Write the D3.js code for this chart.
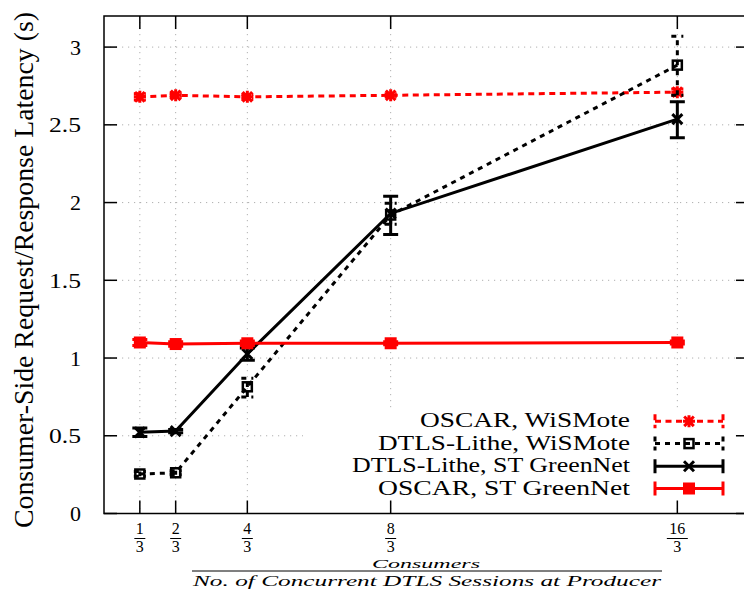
<!DOCTYPE html>
<html>
<head>
<meta charset="utf-8">
<script src="https://cdn.jsdelivr.net/npm/d3@7"></script>
<style>
  html, body { margin: 0; padding: 0; background: #fff; font-family: "Liberation Serif"; }
  svg { display: block; }
</style>
</head>
<body>
<svg id="chart" width="744" height="593" style="font-family: 'Liberation Serif'"></svg>
<script>
// ---------------- data ----------------
const xValues = [1/3, 2/3, 4/3, 8/3, 16/3];
const xTickNum = ["1", "2", "4", "8", "16"];
const xTickDen = ["3", "3", "3", "3", "3"];
const yTicks = [0, 0.5, 1, 1.5, 2, 2.5, 3];
const yTickLabels = ["0", "0.5", "1", "1.5", "2", "2.5", "3"];

const seriesNames = ["OSCAR, WiSMote", "DTLS-Lithe, WiSMote", "DTLS-Lithe, ST GreenNet", "OSCAR, ST GreenNet"];

const oscarWiSMote     = [2.68, 2.69, 2.68, 2.69, 2.71];
const oscarWiSMoteLo   = [2.66, 2.675, 2.665, 2.68, 2.69];
const oscarWiSMoteHi   = [2.70, 2.705, 2.695, 2.70, 2.73];

const litheWiSMote     = [0.254, 0.262, 0.815, 1.92, 2.884];
const litheWiSMoteLo   = [0.24, 0.25, 0.75, 1.86, 2.69];
const litheWiSMoteHi   = [0.27, 0.275, 0.87, 1.995, 3.07];

const litheGreenNet    = [0.522, 0.53, 1.026, 1.93, 2.537];
const litheGreenNetLo  = [0.495, 0.52, 0.985, 1.795, 2.417];
const litheGreenNetHi  = [0.55, 0.54, 1.065, 2.04, 2.648];

const oscarGreenNet    = [1.10, 1.09, 1.095, 1.095, 1.10];
const oscarGreenNetLo  = [1.08, 1.075, 1.08, 1.085, 1.09];
const oscarGreenNetHi  = [1.12, 1.105, 1.11, 1.105, 1.11];

// ---------------- layout ----------------
const svg = d3.select("#chart");
const x = d3.scaleLinear().domain([0, 6]).range([104, 749]);
const y = d3.scaleLinear().domain([0, 3.2]).range([513.5, 16]);
const X0 = x(0), X1 = x(6), Y0 = y(0), Y1 = y(3.2);

const series = [
  { name: seriesNames[0], v: oscarWiSMote, lo: oscarWiSMoteLo, hi: oscarWiSMoteHi, color: "#ff0000", dash: "6,4.5", marker: "star", cap: 6 },
  { name: seriesNames[1], v: litheWiSMote, lo: litheWiSMoteLo, hi: litheWiSMoteHi, color: "#000000", dash: "5,5", marker: "osquare", cap: 6 },
  { name: seriesNames[2], v: litheGreenNet, lo: litheGreenNetLo, hi: litheGreenNetHi, color: "#000000", dash: null, marker: "cross", cap: 7.5 },
  { name: seriesNames[3], v: oscarGreenNet, lo: oscarGreenNetLo, hi: oscarGreenNetHi, color: "#ff0000", dash: null, marker: "fsquare", cap: 7.5 }
];

function txt(g) {
  return g.append("text").attr("font-family", "Liberation Serif").style("font-family", '"Liberation Serif"').attr("fill", "#000");
}

// ---------------- grid ----------------
const grid = svg.append("g");
yTicks.forEach(t => {
  if (t === 0) return;
  grid.append("line").attr("x1", X0).attr("x2", X1).attr("y1", y(t)).attr("y2", y(t))
    .attr("stroke", "#b0b0b0").attr("stroke-width", 1).attr("stroke-dasharray", "1.2,4.8");
});
xValues.forEach(t => {
  grid.append("line").attr("x1", x(t)).attr("x2", x(t)).attr("y1", Y1).attr("y2", Y0)
    .attr("stroke", "#b0b0b0").attr("stroke-width", 1).attr("stroke-dasharray", "1.2,4.8");
});

// legend box (opaque)
svg.append("rect").attr("x", 303).attr("y", 408).attr("width", 432).attr("height", 94).attr("fill", "#fff");

// ---------------- markers ----------------
function drawMarker(g, kind, cx, cy, color) {
  if (kind === "star") {
    const r = 6;
    const p = `M${cx-r},${cy}L${cx+r},${cy}M${cx},${cy-r}L${cx},${cy+r}M${cx-r*0.8},${cy-r*0.8}L${cx+r*0.8},${cy+r*0.8}M${cx-r*0.8},${cy+r*0.8}L${cx+r*0.8},${cy-r*0.8}`;
    g.append("path").attr("d", p).attr("stroke", color).attr("stroke-width", 3).attr("fill", "none");
  } else if (kind === "osquare") {
    g.append("rect").attr("x", cx-4.5).attr("y", cy-4.5).attr("width", 9).attr("height", 9)
      .attr("fill", "none").attr("stroke", color).attr("stroke-width", 2.5);
  } else if (kind === "cross") {
    const r = 5;
    g.append("path").attr("d", `M${cx-r},${cy-r}L${cx+r},${cy+r}M${cx-r},${cy+r}L${cx+r},${cy-r}`)
      .attr("stroke", color).attr("stroke-width", 3).attr("fill", "none");
  } else if (kind === "fsquare") {
    g.append("rect").attr("x", cx-6).attr("y", cy-6).attr("width", 12).attr("height", 12)
      .attr("fill", color).attr("stroke", "none");
  }
}

// ---------------- data ----------------
const line = d3.line().x(d => x(d[0])).y(d => y(d[1]));
series.forEach(s => {
  const g = svg.append("g");
  const pts = xValues.map((xv, i) => [xv, s.v[i]]);
  const path = g.append("path").datum(pts).attr("d", line)
    .attr("fill", "none").attr("stroke", s.color).attr("stroke-width", 3);
  if (s.dash) path.attr("stroke-dasharray", s.dash);
  xValues.forEach((xv, i) => {
    const cx = x(xv);
    const eb = g.append("path")
      .attr("d", `M${cx},${y(s.lo[i])}L${cx},${y(s.hi[i])}M${cx-s.cap},${y(s.lo[i])}L${cx+s.cap},${y(s.lo[i])}M${cx-s.cap},${y(s.hi[i])}L${cx+s.cap},${y(s.hi[i])}`)
      .attr("fill", "none").attr("stroke", s.color).attr("stroke-width", 3);
    if (s.dash) eb.attr("stroke-dasharray", s.dash);
    drawMarker(g, s.marker, cx, y(s.v[i]), s.color);
  });
});

// ---------------- frame & ticks ----------------
const frame = svg.append("g");
frame.append("rect").attr("x", X0).attr("y", Y1).attr("width", X1 - X0).attr("height", Y0 - Y1)
  .attr("fill", "none").attr("stroke", "#000").attr("stroke-width", 1.5);
yTicks.forEach((t, i) => {
  frame.append("line").attr("x1", X0).attr("x2", X0 + 13).attr("y1", y(t)).attr("y2", y(t)).attr("stroke", "#000").attr("stroke-width", 1.5);
  frame.append("line").attr("x1", X1).attr("x2", X1 - 13).attr("y1", y(t)).attr("y2", y(t)).attr("stroke", "#000").attr("stroke-width", 1.5);
  const tx = txt(frame).attr("x", 81).attr("y", y(t) + 7.5).attr("text-anchor", "end")
    .attr("font-size", 22).text(yTickLabels[i]);
  if (yTickLabels[i].length > 1) tx.attr("textLength", 32).attr("lengthAdjust", "spacingAndGlyphs");
});
xValues.forEach((t, i) => {
  const cx = x(t);
  frame.append("line").attr("x1", cx).attr("x2", cx).attr("y1", Y0).attr("y2", Y0 - 13).attr("stroke", "#000").attr("stroke-width", 1.5);
  frame.append("line").attr("x1", cx).attr("x2", cx).attr("y1", Y1).attr("y2", Y1 + 13).attr("stroke", "#000").attr("stroke-width", 1.5);
  txt(frame).attr("x", cx).attr("y", 533.5).attr("text-anchor", "middle").attr("font-size", 16).text(xTickNum[i]);
  txt(frame).attr("x", cx).attr("y", 552).attr("text-anchor", "middle").attr("font-size", 16).text(xTickDen[i]);
  const hw = xTickNum[i].length > 1 ? 10.5 : 5.5;
  frame.append("line").attr("x1", cx - hw).attr("x2", cx + hw).attr("y1", 538.5).attr("y2", 538.5).attr("stroke", "#000").attr("stroke-width", 1);
});

// axis titles
txt(svg).attr("transform", "translate(33,270) rotate(-90)")
  .attr("text-anchor", "middle").attr("font-size", 27)
  .attr("textLength", 516).attr("lengthAdjust", "spacingAndGlyphs")
  .text("Consumer-Side Request/Response Latency (s)");
txt(svg).attr("x", 426).attr("y", 568).attr("text-anchor", "middle")
  .attr("font-size", 13.5).attr("font-style", "italic")
  .attr("textLength", 108).attr("lengthAdjust", "spacingAndGlyphs").text("Consumers");
svg.append("line").attr("x1", 192).attr("x2", 662).attr("y1", 571).attr("y2", 571).attr("stroke", "#000").attr("stroke-width", 1);
txt(svg).attr("x", 427).attr("y", 586).attr("text-anchor", "middle")
  .attr("font-size", 15).attr("font-style", "italic")
  .attr("textLength", 468).attr("lengthAdjust", "spacingAndGlyphs").text("No. of Concurrent DTLS Sessions at Producer");

// ---------------- legend ----------------
const legendBase = [427.3, 449.6, 472.3, 494.5];
const legendWidth = [210, 252, 278, 252];
const leg = svg.append("g");
series.forEach((s, i) => {
  const by = legendBase[i];
  const cy = by - 6;
  txt(leg).attr("x", 630).attr("y", by).attr("text-anchor", "end").attr("font-size", 21)
    .attr("textLength", legendWidth[i]).attr("lengthAdjust", "spacingAndGlyphs").text(s.name);
  const lp = leg.append("path")
    .attr("d", `M655,${cy}L723,${cy}M655,${cy-7}L655,${cy+7}M723,${cy-7}L723,${cy+7}`)
    .attr("fill", "none").attr("stroke", s.color).attr("stroke-width", 3);
  if (s.dash) lp.attr("stroke-dasharray", s.dash);
  drawMarker(leg, s.marker, 689, cy, s.color);
});
</script>
</body>
</html>
